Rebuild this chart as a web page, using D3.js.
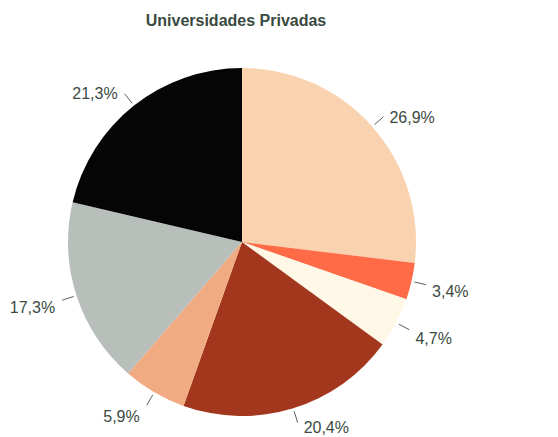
<!DOCTYPE html>
<html>
<head>
<meta charset="utf-8">
<script src="https://cdn.jsdelivr.net/npm/d3@7"></script>
<style>
  body { margin: 0; background: #fff; }
  svg { display: block; font-family: "Liberation Sans", Arial, sans-serif; }
</style>
</head>
<body>
<svg id="chart" width="558" height="437"></svg>
<script>
// slices, clockwise from 12 o'clock
var values = [26.9, 3.4, 4.7, 20.4, 5.9, 17.3, 21.3];
var labels = ['26,9%', '3,4%', '4,7%', '20,4%', '5,9%', '17,3%', '21,3%'];
var colors = ['#f9d2af', '#ff6b47', '#fff8e6', '#a3371d', '#f1ab82', '#b8bfbb', '#050505'];
var title = 'Universidades Privadas';

var width = 558, height = 437;
var svg = d3.select('#chart');
var cx = 242, cy = 242, r = 174;
var textColor = '#3b4a3f';

svg.append('text')
  .attr('x', 236)
  .attr('y', 26)
  .attr('text-anchor', 'middle')
  .attr('font-size', 16)
  .attr('font-weight', 'bold')
  .attr('fill', textColor)
  .text(title);

var pie = d3.pie().sort(null).value(function(d) { return d; });
var arcs = pie(values);
var arc = d3.arc().innerRadius(0).outerRadius(r);

var g = svg.append('g').attr('transform', 'translate(' + cx + ',' + cy + ')');

g.selectAll('path.slice')
  .data(arcs)
  .enter().append('path')
  .attr('class', 'slice')
  .attr('d', arc)
  .attr('fill', function(d, i) { return colors[i]; });

// leader lines and labels
arcs.forEach(function(d, i) {
  var a = (d.startAngle + d.endAngle) / 2;
  var s = Math.sin(a), c = Math.cos(a);
  var x1 = s * (r + 3), y1 = -c * (r + 3);
  var x2 = s * (r + 15), y2 = -c * (r + 15);
  g.append('line')
    .attr('x1', x1).attr('y1', y1)
    .attr('x2', x2).attr('y2', y2)
    .attr('stroke', '#5a625c')
    .attr('stroke-width', 1);
  var right = s >= 0;
  // keep the label inside the picture
  var ty = Math.min(y2 + 5 - 7 * c, height - cy - 10);
  g.append('text')
    .attr('x', x2 + (right ? 6 : -7))
    .attr('y', ty)
    .attr('dy', '0.35em')
    .attr('text-anchor', right ? 'start' : 'end')
    .attr('font-size', 16)
    .attr('fill', textColor)
    .text(labels[i]);
});
</script>
</body>
</html>
